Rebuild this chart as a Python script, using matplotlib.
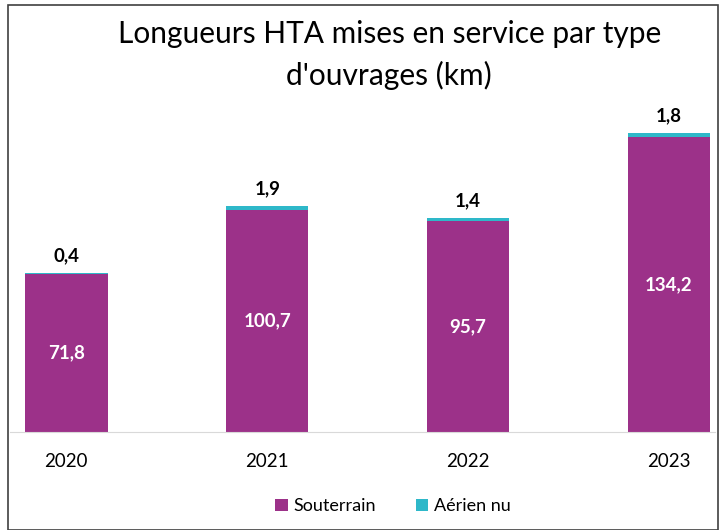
import matplotlib.pyplot as plt
from matplotlib.patches import Rectangle

annees = ['2020', '2021', '2022', '2023']
souterrain = [71.8, 100.7, 95.7, 134.2]
aerien_nu = [0.4, 1.9, 1.4, 1.8]

violet = '#9C3189'
cyan = '#2EB8C9'

plt.rcParams['font.family'] = ['Lato', 'DejaVu Sans']

fig = plt.figure(figsize=(7.21, 5.30), dpi=100)
ax = fig.add_axes([0.014, 0.185, 0.978, 0.581])

x = range(len(annees))
ax.bar(x, souterrain, width=0.41, color=violet, label='Souterrain')
ax.bar(x, aerien_nu, width=0.41, bottom=souterrain, color=cyan, label='Aérien nu')

for i in x:
    ax.text(i, souterrain[i] / 2, f'{souterrain[i]:.1f}'.replace('.', ','),
            ha='center', va='center', color='white', fontsize=13.5, fontweight='bold')
    ax.text(i, souterrain[i] + aerien_nu[i] + 4, f'{aerien_nu[i]:.1f}'.replace('.', ','),
            ha='center', va='bottom', color='black', fontsize=13.5, fontweight='bold')

ax.set_xlim(-0.28, 3.23)
ax.set_ylim(0, 140)
ax.set_yticks([])
ax.set_xticks(list(x))
ax.set_xticklabels(annees, fontsize=13.5)
ax.tick_params(axis='x', length=0, pad=15)
for s in ['top', 'right', 'left']:
    ax.spines[s].set_visible(False)
ax.spines['bottom'].set_color('#D9D9D9')

fig.text(0.54, 0.935, 'Longueurs HTA mises en service par type',
         ha='center', va='center', fontsize=21.5)
fig.text(0.54, 0.858, "d'ouvrages (km)", ha='center', va='center', fontsize=21.5)

fig.legend(loc='center', bbox_to_anchor=(0.545, 0.045), ncol=2, frameon=False,
           fontsize=13, handlelength=0.7, handleheight=0.7, handletextpad=0.3,
           columnspacing=2.2)

fig.patches.append(Rectangle((0.011, 0.0), 0.985, 0.99, transform=fig.transFigure,
                             fill=False, edgecolor='#404040', linewidth=1.2))

fig.savefig('out.png', dpi=100)
